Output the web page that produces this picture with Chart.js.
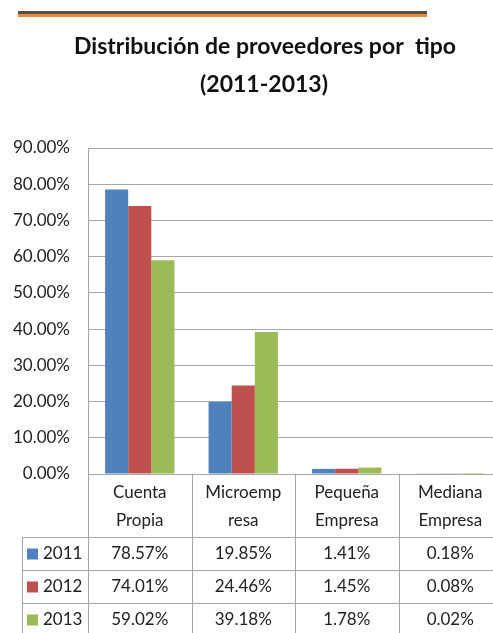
<!DOCTYPE html>
<html>
<head>
<meta charset="utf-8">
<script src="https://cdn.jsdelivr.net/npm/chart.js@4"></script>
<style>
  html, body { margin: 0; padding: 0; overflow: hidden; background: #fff; }
  #wrap { width: 502px; height: 633px; }
</style>
</head>
<body>
<div id="wrap"><canvas id="myChart" width="502" height="633"></canvas></div>
<script>
var categories = [['Cuenta', 'Propia'], ['Microemp', 'resa'], ['Pequeña', 'Empresa'], ['Mediana', 'Empresa']];
var years = ['2011', '2012', '2013'];
var values2011 = [78.57, 19.85, 1.41, 0.18];
var values2012 = [74.01, 24.46, 1.45, 0.08];
var values2013 = [59.02, 39.18, 1.78, 0.02];
var colors = ['#4F81BD', '#C0504D', '#9BBB59'];
var yTicks = [0, 10, 20, 30, 40, 50, 60, 70, 80, 90];
var titleLines = ['Distribución de proveedores por  tipo', '(2011-2013)'];

var FONT = 'Lato, "Open Sans", sans-serif';
var GRID = '#A6A6A6';

// banner line, title and data table under the bars
var tablePlugin = {
  id: 'dataTable',
  beforeDraw: function(chart) {
    var ctx = chart.ctx;
    ctx.save();
    ctx.fillStyle = '#5B4E47';
    ctx.fillRect(18, 11, 409, 3);
    ctx.fillStyle = '#E9893A';
    ctx.fillRect(18, 14, 409, 3);

    ctx.fillStyle = '#111';
    ctx.font = 'bold 23px ' + FONT;
    ctx.textAlign = 'center';
    ctx.textBaseline = 'middle';
    ctx.fillText(titleLines[0], 265, 47);
    ctx.fillText(titleLines[1], 264, 85);
    ctx.restore();
  },
  afterDraw: function(chart) {
    var ctx = chart.ctx;
    var x = chart.scales.x;
    var area = chart.chartArea;
    var colW = x.width / categories.length;
    var top = area.bottom;
    var headH = 63, rowH = 33, labelLeft = 22;
    var bottom = chart.height + 2;
    var rows = [values2011, values2012, values2013];

    ctx.save();
    ctx.strokeStyle = GRID;
    ctx.lineWidth = 1;
    ctx.beginPath();
    // axis line
    ctx.moveTo(x.left, top + 0.5);
    ctx.lineTo(x.right, top + 0.5);
    // column separators
    for (var k = 0; k <= categories.length; k++) {
      var cx = Math.round(x.left + k * colW) + 0.5;
      ctx.moveTo(cx, top);
      ctx.lineTo(cx, bottom);
    }
    // row label column border
    ctx.moveTo(labelLeft + 0.5, top + headH);
    ctx.lineTo(labelLeft + 0.5, bottom);
    for (var r = 0; r <= rows.length; r++) {
      var ry = Math.round(top + headH + r * rowH) + 0.5;
      ctx.moveTo(labelLeft, ry);
      ctx.lineTo(x.right, ry);
    }
    ctx.stroke();

    ctx.fillStyle = '#222';
    ctx.font = '17px ' + FONT;
    ctx.textAlign = 'center';
    ctx.textBaseline = 'middle';
    categories.forEach(function(lines, i) {
      var cx = x.getPixelForValue(i);
      ctx.fillText(lines[0], cx, top + 19);
      ctx.fillText(lines[1], cx, top + 47);
    });

    rows.forEach(function(vals, r) {
      var cy = top + headH + r * rowH + rowH / 2;
      ctx.fillStyle = colors[r];
      ctx.fillRect(labelLeft + 5, cy - 5, 11, 11);
      ctx.fillStyle = '#222';
      ctx.textAlign = 'left';
      ctx.fillText(years[r], labelLeft + 21, cy);
      ctx.textAlign = 'center';
      vals.forEach(function(v, i) {
        ctx.fillText(v.toFixed(2) + '%', x.getPixelForValue(i), cy);
      });
    });
    ctx.restore();
  }
};

var ctx = document.getElementById('myChart').getContext('2d');
var myChart = new Chart(ctx, {
  type: 'bar',
  data: {
    labels: categories.map(function(c) { return c.join(' '); }),
    datasets: [
      { label: years[0], data: values2011, backgroundColor: colors[0] },
      { label: years[1], data: values2012, backgroundColor: colors[1] },
      { label: years[2], data: values2013, backgroundColor: colors[2] }
    ]
  },
  options: {
    responsive: false,
    animation: false,
    devicePixelRatio: 1,
    datasets: { bar: { barPercentage: 1, categoryPercentage: 0.67 } },
    layout: { padding: { left: 0, right: 0, top: 148, bottom: 0 } },
    plugins: {
      legend: { display: false },
      tooltip: { enabled: false },
      title: { display: false }
    },
    scales: {
      x: {
        ticks: { display: false },
        grid: { display: false },
        border: { display: false },
        afterFit: function(axis) { axis.height = 159; }
      },
      y: {
        min: 0,
        max: 90,
        afterBuildTicks: function(axis) { axis.ticks = yTicks.map(function(v) { return { value: v }; }); },
        ticks: {
          padding: 18,
          color: '#222',
          font: { family: FONT, size: 17 },
          callback: function(v) { return v.toFixed(2) + '%'; }
        },
        grid: { color: GRID, drawTicks: false },
        border: { display: true, color: GRID },
        afterFit: function(axis) { axis.width = 88; }
      }
    }
  },
  plugins: [tablePlugin]
});
</script>
</body>
</html>
